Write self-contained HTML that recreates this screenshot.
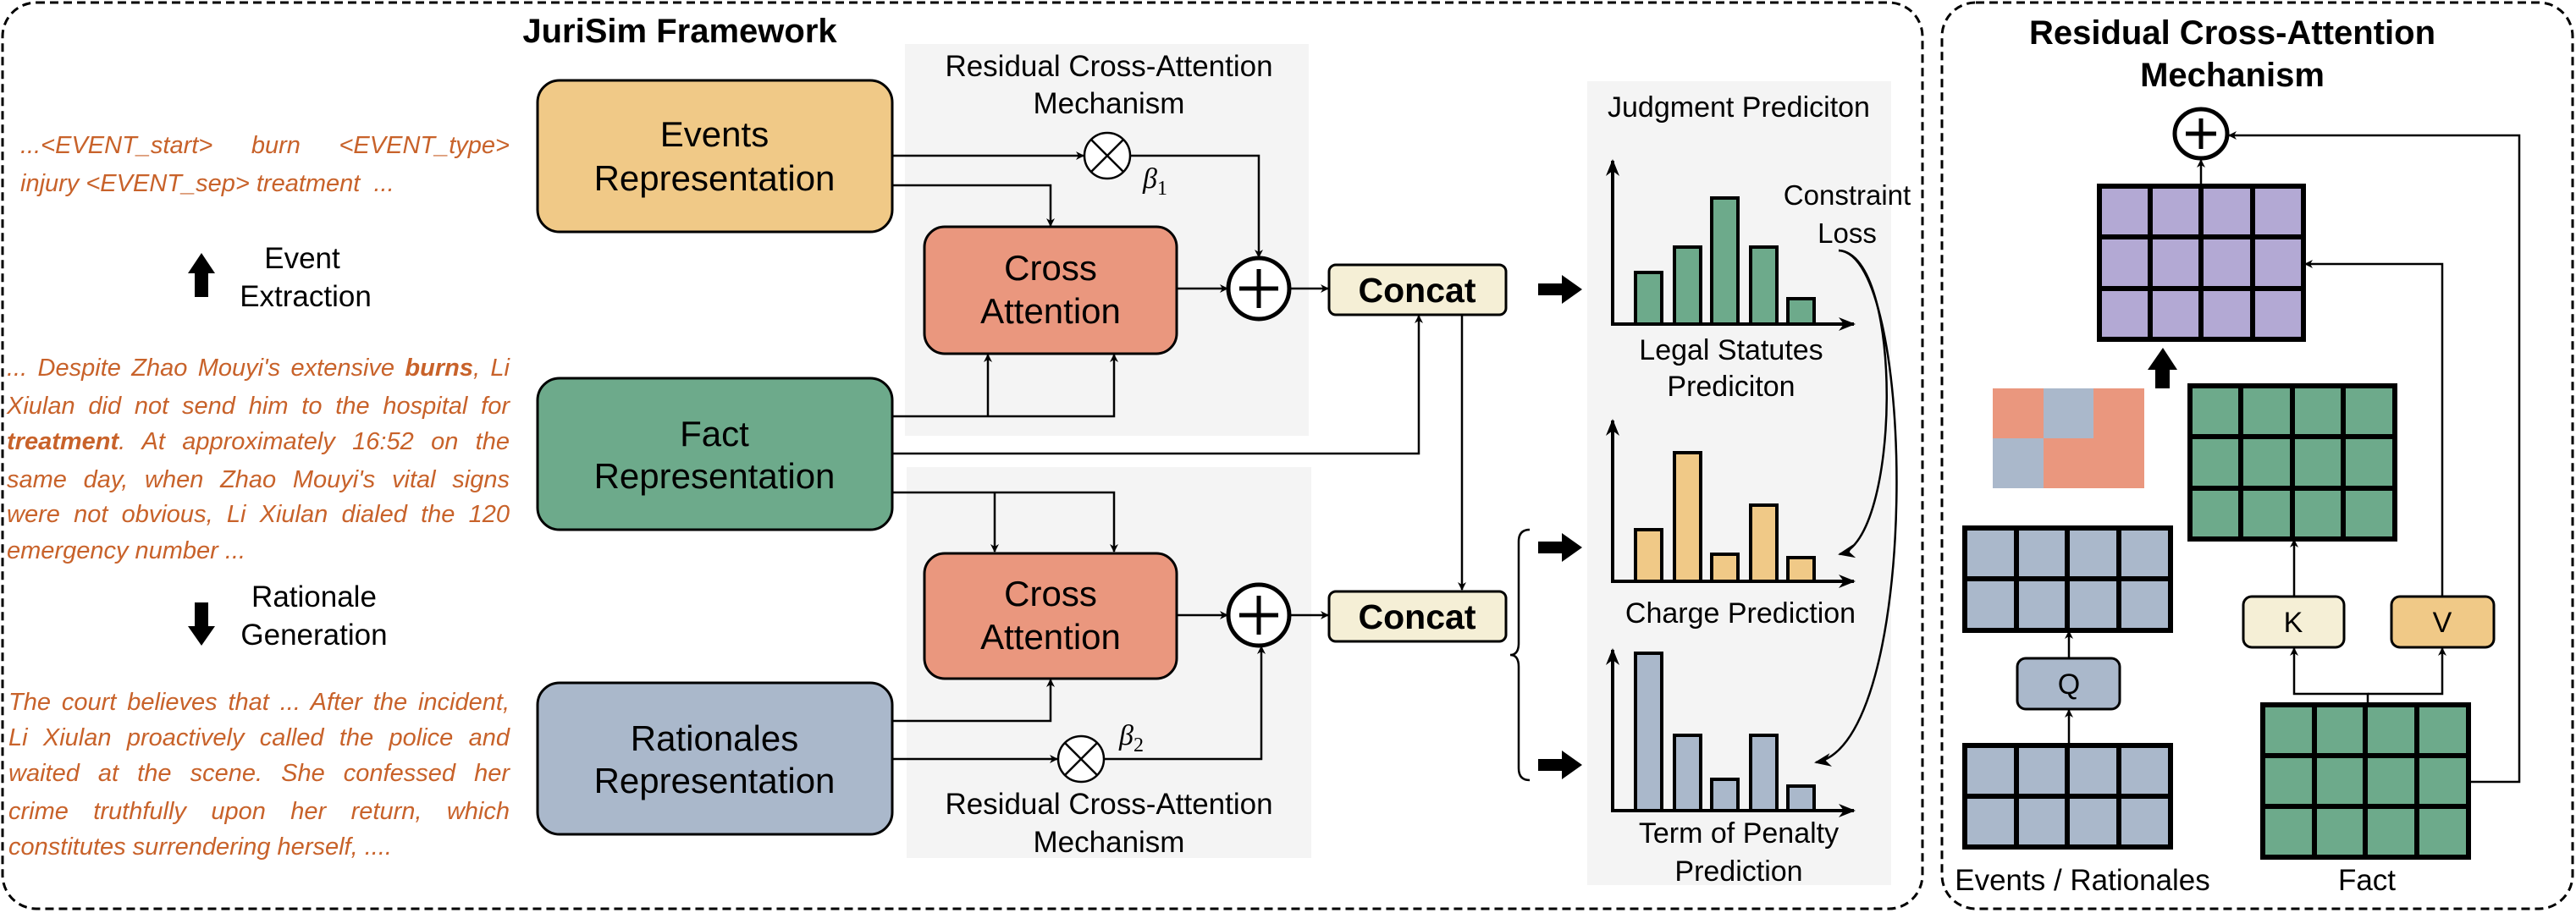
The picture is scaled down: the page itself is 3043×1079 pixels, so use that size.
<!DOCTYPE html>
<html><head><meta charset="utf-8">
<style>
body{margin:0;background:#fff;}
#w{position:relative;width:3043px;height:1079px;overflow:hidden;font-family:"Liberation Sans",sans-serif;}
svg{position:absolute;left:0;top:0;}
.p{position:absolute;font-style:italic;color:#c8622a;font-size:29px;height:43px;line-height:43px;white-space:nowrap;}
.j{text-align:justify;text-align-last:justify;white-space:normal;}
</style></head><body><div id="w">
<svg width="3043" height="1079" viewBox="0 0 3043 1079" font-family="Liberation Sans, sans-serif">
<defs>
<marker id="a" markerWidth="10" markerHeight="10" refX="9" refY="5" orient="auto" markerUnits="userSpaceOnUse"><path d="M0,0 L10,5 L0,10 L3,5 z" fill="#000"/></marker>
<marker id="b" markerWidth="20" markerHeight="16" refX="18" refY="8" orient="auto" markerUnits="userSpaceOnUse"><path d="M0,0 L20,8 L0,16 L6,8 z" fill="#000"/></marker>
</defs>
<!-- frames -->
<rect x="3" y="3" width="2268" height="1071" rx="40" fill="none" stroke="#000" stroke-width="3" stroke-dasharray="10,6"/>
<rect x="2294" y="3" width="745" height="1071" rx="40" fill="none" stroke="#000" stroke-width="3" stroke-dasharray="10,6"/>
<text x="803" y="50" font-size="40" font-weight="bold" text-anchor="middle">JuriSim Framework</text>
<!-- gray panels -->
<rect x="1069" y="52" width="477" height="463" fill="#f4f4f4"/>
<rect x="1071" y="552" width="478" height="462" fill="#f4f4f4"/>
<rect x="1875" y="96" width="359" height="950" fill="#f4f4f4"/>
<!-- rep boxes -->
<rect x="635" y="95" width="419" height="179" rx="26" fill="#f0c987" stroke="#000" stroke-width="3"/>
<text x="844" y="173" font-size="42" text-anchor="middle">Events</text>
<text x="844" y="225" font-size="42" text-anchor="middle">Representation</text>
<rect x="635" y="447" width="419" height="179" rx="26" fill="#6daa8b" stroke="#000" stroke-width="3"/>
<text x="844" y="527" font-size="42" text-anchor="middle">Fact</text>
<text x="844" y="577" font-size="42" text-anchor="middle">Representation</text>
<rect x="635" y="807" width="419" height="179" rx="26" fill="#aab8cb" stroke="#000" stroke-width="3"/>
<text x="844" y="887" font-size="42" text-anchor="middle">Rationales</text>
<text x="844" y="937" font-size="42" text-anchor="middle">Representation</text>
<!-- left arrows -->
<path d="M230,351 V323 H222 L238,299 L254,323 H246 V351 z" fill="#000"/>
<path d="M230,712 V740 H222 L238,763 L254,740 H246 V712 z" fill="#000"/>
<text x="357" y="317" font-size="35" text-anchor="middle">Event</text>
<text x="361" y="362" font-size="35" text-anchor="middle">Extraction</text>
<text x="371" y="717" font-size="35" text-anchor="middle">Rationale</text>
<text x="371" y="762" font-size="35" text-anchor="middle">Generation</text>
<!-- panel texts -->
<text x="1310" y="90" font-size="35" text-anchor="middle">Residual Cross-Attention</text>
<text x="1310" y="134" font-size="35" text-anchor="middle">Mechanism</text>
<text x="1310" y="962" font-size="35" text-anchor="middle">Residual Cross-Attention</text>
<text x="1310" y="1007" font-size="35" text-anchor="middle">Mechanism</text>
<!-- cross attention -->
<rect x="1092" y="268" width="298" height="150" rx="24" fill="#ea977e" stroke="#000" stroke-width="3"/>
<text x="1241" y="331" font-size="42" text-anchor="middle">Cross</text>
<text x="1241" y="382" font-size="42" text-anchor="middle">Attention</text>
<rect x="1092" y="654" width="298" height="148" rx="24" fill="#ea977e" stroke="#000" stroke-width="3"/>
<text x="1241" y="716" font-size="42" text-anchor="middle">Cross</text>
<text x="1241" y="767" font-size="42" text-anchor="middle">Attention</text>
<!-- otimes -->
<g stroke="#000" stroke-width="2.5" fill="#fff">
<circle cx="1308" cy="184" r="27"/><path d="M1289,165 L1327,203 M1327,165 L1289,203"/>
<circle cx="1277" cy="897" r="27"/><path d="M1258,878 L1296,916 M1296,878 L1258,916"/>
</g>
<text x="1350" y="222" font-size="34" font-style="italic" font-family="Liberation Serif, serif">β<tspan font-size="24" font-style="normal" dy="8">1</tspan></text>
<text x="1322" y="880" font-size="34" font-style="italic" font-family="Liberation Serif, serif">β<tspan font-size="24" font-style="normal" dy="8">2</tspan></text>
<!-- plus -->
<g stroke="#000" stroke-width="5" fill="#fff">
<circle cx="1487" cy="341" r="36"/><path d="M1487,318 V364 M1464,341 H1510"/>
<circle cx="1487" cy="727" r="36"/><path d="M1487,704 V750 M1464,727 H1510"/>
</g>
<!-- concat -->
<rect x="1570" y="313" width="209" height="59" rx="8" fill="#f5efd6" stroke="#000" stroke-width="3"/>
<text x="1674" y="357" font-size="41" font-weight="bold" text-anchor="middle">Concat</text>
<rect x="1570" y="699" width="209" height="59" rx="8" fill="#f5efd6" stroke="#000" stroke-width="3"/>
<text x="1674" y="743" font-size="41" font-weight="bold" text-anchor="middle">Concat</text>
<!-- connectors -->
<g stroke="#000" stroke-width="2.5" fill="none" marker-end="url(#a)">
<path d="M1054,184 H1280"/>
<path d="M1054,219 H1241 V267"/>
<path d="M1335,184 H1487 V304"/>
<path d="M1390,341 H1450"/>
<path d="M1523,341 H1569"/>
<path d="M1054,492 H1316 V419"/>
<path d="M1167,492 V419"/>
<path d="M1054,536 H1676 V373"/>
<path d="M1727,372 V697"/>
<path d="M1054,582 H1316 V652"/>
<path d="M1175,582 V652"/>
<path d="M1054,852 H1241 V803"/>
<path d="M1054,897 H1249"/>
<path d="M1304,897 H1490 V764"/>
<path d="M1390,727 H1450"/>
<path d="M1523,727 H1569"/>
</g>
<!-- brace -->
<path d="M1807,626 Q1794,626 1794,640 V760 Q1794,774 1784,774 Q1794,774 1794,788 V908 Q1794,922 1807,922" stroke="#000" stroke-width="2.5" fill="none"/>
<!-- block arrows -->
<g fill="#000">
<path d="M1817,335 H1845 V325 L1869,342 L1845,359 V349 H1817 z"/>
<path d="M1817,640 H1845 V630 L1869,647 L1845,664 V654 H1817 z"/>
<path d="M1817,897 H1845 V887 L1869,904 L1845,921 V911 H1817 z"/>
</g>
<text x="2054" y="138" font-size="34" text-anchor="middle">Judgment Prediciton</text>
<!-- charts -->
<g stroke="#000" stroke-width="4">
<rect x="1932" y="322" width="31" height="61" fill="#6daa8b"/>
<rect x="1978" y="292" width="31" height="91" fill="#6daa8b"/>
<rect x="2022" y="234" width="31" height="149" fill="#6daa8b"/>
<rect x="2068" y="292" width="31" height="91" fill="#6daa8b"/>
<rect x="2112" y="353" width="31" height="30" fill="#6daa8b"/>
<rect x="1932" y="626" width="31" height="61" fill="#f0c987"/>
<rect x="1978" y="535" width="31" height="152" fill="#f0c987"/>
<rect x="2022" y="655" width="31" height="32" fill="#f0c987"/>
<rect x="2068" y="597" width="31" height="90" fill="#f0c987"/>
<rect x="2112" y="659" width="31" height="28" fill="#f0c987"/>
<rect x="1932" y="772" width="31" height="186" fill="#aab8cb"/>
<rect x="1978" y="869" width="31" height="89" fill="#aab8cb"/>
<rect x="2022" y="921" width="31" height="37" fill="#aab8cb"/>
<rect x="2068" y="869" width="31" height="89" fill="#aab8cb"/>
<rect x="2112" y="929" width="31" height="29" fill="#aab8cb"/>
</g>
<g stroke="#000" stroke-width="4" fill="none" marker-end="url(#b)">
<path d="M1905,385 V190"/><path d="M1903,383 H2190"/>
<path d="M1905,689 V497"/><path d="M1903,687 H2190"/>
<path d="M1905,960 V768"/><path d="M1903,958 H2190"/>
</g>
<text x="2045" y="425" font-size="34" text-anchor="middle">Legal Statutes</text>
<text x="2045" y="468" font-size="34" text-anchor="middle">Prediciton</text>
<text x="2056" y="736" font-size="34" text-anchor="middle">Charge Prediction</text>
<text x="2054" y="996" font-size="34" text-anchor="middle">Term of Penalty</text>
<text x="2054" y="1041" font-size="34" text-anchor="middle">Prediction</text>
<text x="2182" y="242" font-size="33" text-anchor="middle">Constraint</text>
<text x="2182" y="287" font-size="33" text-anchor="middle">Loss</text>
<g stroke="#000" stroke-width="2.5" fill="none" marker-end="url(#b)">
<path d="M2172,296 C2250,300 2245,640 2173,655"/>
<path d="M2172,296 C2265,300 2270,880 2145,901"/>
</g>
<!-- right panel -->
<text x="2637" y="52" font-size="40" font-weight="bold" text-anchor="middle">Residual Cross-Attention</text>
<text x="2637" y="102" font-size="40" font-weight="bold" text-anchor="middle">Mechanism</text>
<g stroke="#000" stroke-width="5" fill="#fff">
<ellipse cx="2600" cy="158" rx="31" ry="29"/><path d="M2600,140 V176 M2582,158 H2618"/>
</g>
<g stroke="#000" stroke-width="2.5" fill="none" marker-end="url(#a)">
<path d="M2600,220 V189"/>
<path d="M2916,924 H2976 V160 H2633"/>
<path d="M2885,705 V312 H2723"/>
<path d="M2444,881 V839"/>
<path d="M2444,778 V746"/>
<path d="M2710,705 V638"/>
<path d="M2797,833 V820 H2710 V766"/>
<path d="M2797,820 H2885 V766"/>
</g>
<!-- grids -->
<g stroke="#000" stroke-width="6">
<rect x="2480" y="220" width="241" height="181" fill="#b3a9d4"/>
<path d="M2540,220V401M2600,220V401M2661,220V401M2480,280H2721M2480,341H2721"/>
<rect x="2587" y="456" width="242" height="181" fill="#6daa8b"/>
<path d="M2647,456V637M2708,456V637M2768,456V637M2587,516H2829M2587,577H2829"/>
<rect x="2321" y="624" width="243" height="121" fill="#aab8cb"/>
<path d="M2382,624V745M2442,624V745M2503,624V745M2321,684H2564"/>
<rect x="2321" y="881" width="243" height="120" fill="#aab8cb"/>
<path d="M2382,881V1001M2442,881V1001M2503,881V1001M2321,941H2564"/>
<rect x="2673" y="833" width="243" height="180" fill="#6daa8b"/>
<path d="M2734,833V1013M2794,833V1013M2855,833V1013M2673,893H2916M2673,953H2916"/>
</g>
<!-- attention map -->
<rect x="2354" y="459" width="179" height="118" fill="#ea977e"/>
<rect x="2414" y="459" width="59" height="59" fill="#aab8cb"/>
<rect x="2354" y="518" width="60" height="59" fill="#aab8cb"/>
<path d="M2545,459 H2564 L2554,459 z" fill="none"/>
<path d="M2546,459 V437 H2537 L2555,411 L2572,437 H2563 V459 z" fill="#000"/>
<rect x="2383" y="778" width="121" height="60" rx="10" fill="#aab8cb" stroke="#000" stroke-width="3"/>
<text x="2444" y="820" font-size="34" text-anchor="middle">Q</text>
<rect x="2650" y="705" width="119" height="60" rx="10" fill="#f5efd6" stroke="#000" stroke-width="3"/>
<text x="2709" y="747" font-size="34" text-anchor="middle">K</text>
<rect x="2825" y="705" width="121" height="60" rx="10" fill="#f0c987" stroke="#000" stroke-width="3"/>
<text x="2885" y="747" font-size="34" text-anchor="middle">V</text>
<text x="2460" y="1052" font-size="35" text-anchor="middle">Events / Rationales</text>
<text x="2796" y="1052" font-size="35" text-anchor="middle">Fact</text>
</svg>
<!-- left paragraphs -->
<div class="p j" style="left:24px;top:151px;width:578px;">...&lt;EVENT_start&gt; burn &lt;EVENT_type&gt;</div>
<div class="p" style="left:24px;top:196px;">injury &lt;EVENT_sep&gt; treatment&nbsp; ...</div>

<div class="p j" style="left:8px;top:414px;width:594px;">... Despite Zhao Mouyi's extensive <b>burns</b>, Li</div>
<div class="p j" style="left:8px;top:459px;width:594px;">Xiulan did not send him to the hospital for</div>
<div class="p j" style="left:8px;top:501px;width:594px;"><b>treatment</b>. At approximately 16:52 on the</div>
<div class="p j" style="left:8px;top:546px;width:594px;">same day, when Zhao Mouyi's vital signs</div>
<div class="p j" style="left:8px;top:587px;width:594px;">were not obvious, Li Xiulan dialed the 120</div>
<div class="p" style="left:8px;top:630px;">emergency number ...</div>

<div class="p j" style="left:10px;top:809px;width:592px;">The court believes that ... After the incident,</div>
<div class="p j" style="left:10px;top:851px;width:592px;">Li Xiulan proactively called the police and</div>
<div class="p j" style="left:10px;top:893px;width:592px;">waited at the scene. She confessed her</div>
<div class="p j" style="left:10px;top:938px;width:592px;">crime truthfully upon her return, which</div>
<div class="p" style="left:10px;top:980px;">constitutes surrendering herself, ....</div>
</div></body></html>
